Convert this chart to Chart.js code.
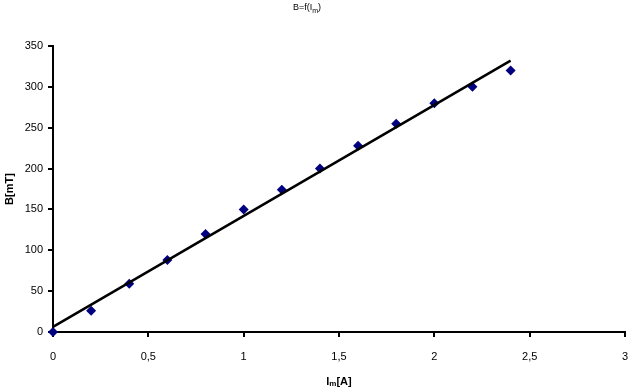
<!DOCTYPE html>
<html lang="de">
<head>
    <meta charset="UTF-8">
    <title>B=f(Im)</title>
    <style>
        body { margin: 0; padding: 0; background: #fff; }
        .wrap { width: 630px; height: 390px; }
    </style>
    <script src="https://cdn.jsdelivr.net/npm/chart.js"></script>
</head>
<body>
    <div class="wrap"><canvas id="chart" width="630" height="390"></canvas></div>
    <script>
        // measured values
        const currentA = [0, 0.2, 0.4, 0.6, 0.8, 1.0, 1.2, 1.4, 1.6, 1.8, 2.0, 2.2, 2.4];
        const fieldMT = [0, 26, 59, 88, 120, 150, 174, 200, 228, 255, 280, 300, 320];
        const xTicks = [0, 0.5, 1, 1.5, 2, 2.5, 3];
        const yTicks = [0, 50, 100, 150, 200, 250, 300, 350];

        // linear trend line (least squares), like the spreadsheet
        const n = currentA.length;
        const mx = currentA.reduce((a, b) => a + b, 0) / n;
        const my = fieldMT.reduce((a, b) => a + b, 0) / n;
        let sxy = 0, sxx = 0;
        for (let i = 0; i < n; i++) {
            sxy += (currentA[i] - mx) * (fieldMT[i] - my);
            sxx += (currentA[i] - mx) * (currentA[i] - mx);
        }
        const slope = sxy / sxx;
        const icpt = my - slope * mx;
        const trendX = [currentA[0], currentA[n - 1]];

        const font = '"Liberation Sans", Arial, sans-serif';

        // title and axis titles with subscript
        const labelsPlugin = {
            id: 'labels',
            afterDraw(chart) {
                const ctx = chart.ctx;
                const a = chart.chartArea;
                ctx.save();
                ctx.fillStyle = '#000';
                ctx.textBaseline = 'alphabetic';

                // title
                ctx.font = '9px ' + font;
                let main = 'B=f(I';
                let w1 = ctx.measureText(main).width;
                ctx.font = '7px ' + font;
                let ws = ctx.measureText('m').width;
                ctx.font = '9px ' + font;
                let w2 = ctx.measureText(')').width;
                let x = 307 - (w1 + ws + w2) / 2;
                ctx.fillText(main, x, 10);
                ctx.font = '7px ' + font;
                ctx.fillText('m', x + w1, 13);
                ctx.font = '9px ' + font;
                ctx.fillText(')', x + w1 + ws, 10);

                // x title
                const cx = (a.left + a.right) / 2;
                ctx.font = 'bold 11px ' + font;
                w1 = ctx.measureText('I').width;
                ctx.font = 'bold 8px ' + font;
                ws = ctx.measureText('m').width;
                ctx.font = 'bold 11px ' + font;
                w2 = ctx.measureText('[A]').width;
                x = cx - (w1 + ws + w2) / 2;
                ctx.fillText('I', x, 385);
                ctx.font = 'bold 8px ' + font;
                ctx.fillText('m', x + w1, 386);
                ctx.font = 'bold 11px ' + font;
                ctx.fillText('[A]', x + w1 + ws, 385);

                // y title
                ctx.translate(13, (a.top + a.bottom) / 2);
                ctx.rotate(-Math.PI / 2);
                ctx.textAlign = 'center';
                ctx.font = 'bold 11px ' + font;
                ctx.fillText('B[mT]', 0, 0);
                ctx.restore();
            }
        };

        new Chart(document.getElementById('chart'), {
            type: 'scatter',
            data: {
                datasets: [{
                    type: 'line',
                    label: 'Trend',
                    data: trendX.map(v => ({ x: v, y: icpt + slope * v })),
                    borderColor: '#000',
                    borderWidth: 2.5,
                    pointRadius: 0,
                    fill: false,
                    clip: false
                }, {
                    label: 'B',
                    data: currentA.map((v, i) => ({ x: v, y: fieldMT[i] })),
                    pointStyle: 'rectRot',
                    pointRadius: 5,
                    backgroundColor: '#000080',
                    borderColor: '#000080',
                    borderWidth: 0,
                    clip: false
                }]
            },
            options: {
                responsive: false,
                animation: false,
                layout: { padding: { top: 46, right: 5, left: 0, bottom: 0 } },
                plugins: {
                    legend: { display: false },
                    title: { display: false },
                    tooltip: { enabled: false }
                },
                scales: {
                    x: {
                        type: 'linear',
                        min: 0,
                        max: 3,
                        afterFit(s) { s.height = 58; s.paddingLeft = 0; s.paddingRight = 0; },
                        afterBuildTicks(s) { s.ticks = xTicks.map(v => ({ value: v })); },
                        ticks: {
                            color: '#000',
                            font: { family: font, size: 11 },
                            padding: 13,
                            maxRotation: 0,
                            callback: v => String(v).replace('.', ',')
                        },
                        grid: { drawOnChartArea: false, tickLength: 5, color: '#000', lineWidth: 2 },
                        border: { color: '#000', width: 2 }
                    },
                    y: {
                        min: 0,
                        max: 350,
                        afterFit(s) { s.width = 53; s.paddingTop = 0; s.paddingBottom = 0; },
                        afterBuildTicks(s) { s.ticks = yTicks.map(v => ({ value: v })); },
                        ticks: {
                            color: '#000',
                            font: { family: font, size: 11 },
                            padding: 5
                        },
                        grid: { drawOnChartArea: false, tickLength: 5, color: '#000', lineWidth: 2 },
                        border: { color: '#000', width: 2 }
                    }
                }
            },
            plugins: [labelsPlugin]
        });
    </script>
</body>
</html>
